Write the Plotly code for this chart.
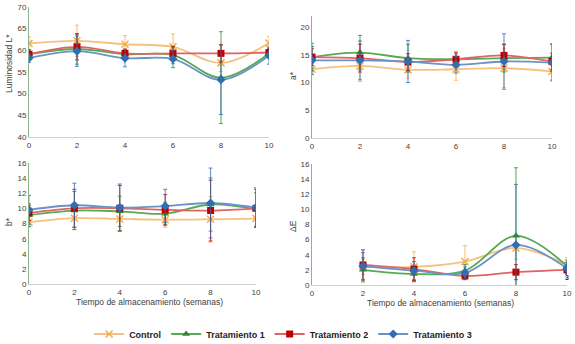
import plotly.graph_objects as go

weeks = [0, 2, 4, 6, 8, 10]
weeks_de = [2, 4, 6, 8, 10]
series_names = ["Control", "Tratamiento 1", "Tratamiento 2", "Tratamiento 3"]

# Luminosidad L*
L_control = [61.6, 62.2, 61.4, 60.8, 57.1, 61.7]
L_t1 = [59.1, 60.3, 59.1, 58.9, 53.7, 59.3]
L_t2 = [59.1, 60.8, 59.3, 59.3, 59.3, 59.5]
L_t3 = [58.2, 59.8, 58.2, 58.0, 53.2, 58.8]
L_err_control = [1.5, 3.6, 2.0, 3.0, 2.0, 1.5]
L_err_t1 = [1.0, 3.5, 1.0, 2.0, 10.6, 1.0]
L_err_t2 = [1.0, 3.0, 1.0, 1.5, 2.0, 1.0]
L_err_t3 = [1.0, 3.5, 2.0, 2.0, 8.0, 2.0]

# a*
a_control = [12.4, 13.0, 12.3, 12.4, 12.6, 12.0]
a_t1 = [14.6, 15.4, 14.4, 14.2, 14.4, 14.5]
a_t2 = [14.6, 14.4, 13.7, 14.2, 14.9, 13.8]
a_t3 = [14.0, 14.0, 13.8, 13.2, 13.8, 13.6]
a_err_control = [1.0, 2.8, 1.5, 2.0, 3.5, 1.5]
a_err_t1 = [2.5, 3.1, 2.5, 1.0, 2.5, 2.5]
a_err_t2 = [1.5, 2.5, 1.5, 1.3, 2.0, 1.5]
a_err_t3 = [2.5, 3.5, 3.8, 1.5, 5.0, 3.3]

# b*
b_control = [8.15, 8.7, 8.6, 8.5, 8.55, 8.65]
b_t1 = [9.1, 9.7, 9.6, 9.3, 10.5, 9.85]
b_t2 = [9.4, 10.0, 10.0, 9.8, 9.7, 10.0]
b_t3 = [9.8, 10.4, 10.1, 10.3, 10.7, 10.1]
b_err_control = [0.6, 1.5, 1.5, 1.0, 3.0, 1.0]
b_err_t1 = [1.5, 2.5, 2.0, 1.5, 3.5, 2.2]
b_err_t2 = [1.0, 2.5, 3.0, 2.0, 4.0, 2.5]
b_err_t3 = [1.9, 2.9, 3.1, 2.2, 4.6, 2.6]

# Delta E
de_control = [2.4, 2.4, 3.1, 4.9, 2.65]
de_t1 = [2.0, 1.46, 1.9, 6.5, 2.5]
de_t2 = [2.65, 2.1, 1.2, 1.7, 2.0]
de_t3 = [2.5, 1.9, 1.6, 5.3, 2.2]
de_err_control = [1.0, 2.0, 2.1, 1.5, 1.0]
de_err_t1 = [1.6, 1.0, 0.8, 9.0, 0.8]
de_err_t2 = [2.0, 1.5, 0.5, 1.0, 0.5]
de_err_t3 = [1.8, 1.2, 0.8, 8.0, 0.8]

x_ticks = [0, 2, 4, 6, 8, 10]
x_title = "Tiempo de almacenamiento (semanas)"

line_colors = ["#F6C07E", "#55AA55", "#E06464", "#6C92C6"]
marker_colors = ["#F2AC50", "#2E8B2E", "#C00000", "#2F6EB5"]
symbols = ["x-thin", "triangle-up", "square", "diamond"]
msizes = [7, 7, 7, 7]

panels = [
    (weeks, [L_control, L_t1, L_t2, L_t3], [L_err_control, L_err_t1, L_err_t2, L_err_t3], "x", "y"),
    (weeks, [a_control, a_t1, a_t2, a_t3], [a_err_control, a_err_t1, a_err_t2, a_err_t3], "x2", "y2"),
    (weeks, [b_control, b_t1, b_t2, b_t3], [b_err_control, b_err_t1, b_err_t2, b_err_t3], "x3", "y3"),
    (weeks_de, [de_control, de_t1, de_t2, de_t3], [de_err_control, de_err_t1, de_err_t2, de_err_t3], "x4", "y4"),
]

fig = go.Figure()
for p, (xs, ys, errs, xa, ya) in enumerate(panels):
    for i in range(4):
        fig.add_trace(go.Scatter(
            x=xs, y=ys[i], xaxis=xa, yaxis=ya,
            mode="lines+markers", name=series_names[i],
            legendgroup=series_names[i], showlegend=(p == 0),
            line=dict(color=line_colors[i], width=1.8, shape="spline", smoothing=1),
            marker=dict(symbol=symbols[i], size=msizes[i], color=marker_colors[i],
                        line=dict(color=marker_colors[i], width=1.5 if i == 0 else 0)),
            error_y=dict(type="data", array=errs[i], visible=True,
                         color=marker_colors[i], thickness=0.8, width=2),
        ))

font = "Liberation Sans, Arial, sans-serif"
axis_common = dict(showgrid=False, zeroline=False, showline=True, linewidth=1,
                   ticks="", tickfont=dict(size=8, color="#404040", family=font))

fig.update_layout(
    width=575, height=344,
    margin=dict(l=0, r=0, t=0, b=0, autoexpand=False),
    paper_bgcolor="white", plot_bgcolor="white",
    font=dict(family=font, color="#404040"),
    showlegend=True,
    legend=dict(orientation="h", x=0.155, y=1 - 334 / 344, xanchor="left", yanchor="middle",
                font=dict(size=9, color="#222222", family=font, weight="bold"),
                itemwidth=30, tracegroupgap=0),
    xaxis=dict(domain=[0.0504, 0.4678], range=[0, 10], tickvals=x_ticks, anchor="y",
               linecolor="#D0D0D0", **axis_common),
    yaxis=dict(domain=[0.6017, 0.9797], range=[40, 70], dtick=5, anchor="x",
               linecolor="#8DB38D", **axis_common),
    xaxis2=dict(domain=[0.5426, 0.96], range=[0, 10], tickvals=x_ticks, anchor="y2",
                linecolor="#D0D0D0", **axis_common),
    yaxis2=dict(domain=[0.5988, 0.9535], range=[0, 22], tickvals=[0, 5, 10, 15, 20], anchor="x2",
                linecolor="#8DB38D", **axis_common),
    xaxis3=dict(domain=[0.0504, 0.4452], range=[0, 10], tickvals=x_ticks, anchor="y3",
                linecolor="#D0D0D0", **axis_common),
    yaxis3=dict(domain=[0.1735, 0.527], range=[0, 16], dtick=2, anchor="x3",
                linecolor="#8DB38D", **axis_common),
    xaxis4=dict(domain=[0.5426, 0.986], range=[0, 10], tickvals=x_ticks, anchor="y4",
                linecolor="#D0D0D0", **axis_common),
    yaxis4=dict(domain=[0.1715, 0.5233], range=[0, 16], dtick=2, anchor="x4",
                linecolor="#8DB38D", **axis_common),
)

ann = dict(showarrow=False, xref="paper", yref="paper", xanchor="center", yanchor="middle",
           font=dict(size=8.5, color="#404040", family=font))
fig.add_annotation(text="Luminosidad L*", x=9 / 575, y=1 - 64 / 344, textangle=-90, **ann)
fig.add_annotation(text="a*", x=293 / 575, y=1 - 76 / 344, textangle=-90, **ann)
fig.add_annotation(text="b*", x=9 / 575, y=1 - 222 / 344, textangle=-90, **ann)
fig.add_annotation(text="ΔE", x=293 / 575, y=1 - 226 / 344, textangle=-90, **ann)
fig.add_annotation(text=x_title, x=149 / 575, y=1 - 302 / 344, **ann)
fig.add_annotation(text=x_title, x=440 / 575, y=1 - 303 / 344, **ann)
fig.add_annotation(text="3", x=10, y=1.05, xref="x4", yref="y4", showarrow=False,
                   xanchor="center", yanchor="middle",
                   font=dict(size=7, color="#5a1010", family=font, weight="bold"))

fig.write_html("out.html", config={"displayModeBar": False},
               post_script="document.body.style.margin='0px';")
